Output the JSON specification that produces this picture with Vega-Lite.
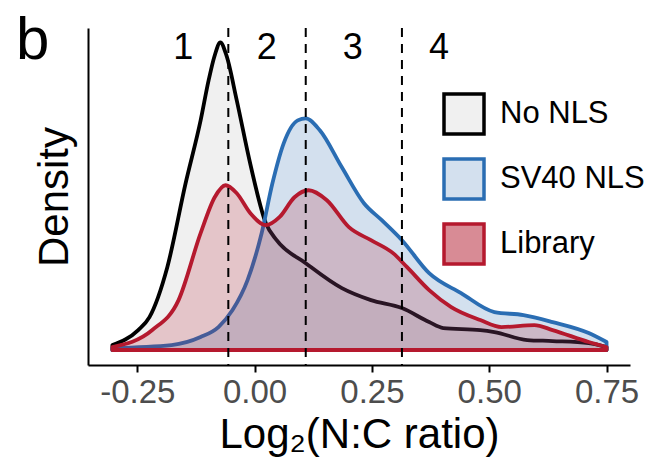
{
  "$schema": "https://vega.github.io/schema/vega-lite/v6.json",
  "autosize": "none",
  "width": 542,
  "height": 337,
  "padding": {"left": 88, "top": 28, "right": 18, "bottom": 105},
  "background": "white",
  "config": {
    "view": {"stroke": null},
    "font": "Liberation Sans",
    "axis": {
      "grid": false,
      "domainColor": "black",
      "domainWidth": 2,
      "tickColor": "black",
      "tickWidth": 2,
      "labelFont": "Liberation Sans",
      "titleFont": "Liberation Sans",
      "titleFontWeight": "normal",
      "titleColor": "black"
    },
    "legend": {
      "labelFont": "Liberation Sans",
      "labelColor": "black"
    }
  },
  "title": {
    "text": "b",
    "anchor": "start",
    "frame": "group",
    "orient": "top",
    "offset": -92,
    "baseline": "alphabetic",
    "dx": -72,
    "fontSize": 60,
    "fontWeight": "normal",
    "font": "Liberation Sans",
    "color": "black"
  },
  "datasets": {
    "density": [
      {"group": "No NLS", "x": -0.303, "density": 0.10},
      {"group": "No NLS", "x": -0.248, "density": 0.40},
      {"group": "No NLS", "x": -0.224, "density": 0.66},
      {"group": "No NLS", "x": -0.186, "density": 1.66},
      {"group": "No NLS", "x": -0.147, "density": 3.34},
      {"group": "No NLS", "x": -0.115, "density": 4.60},
      {"group": "No NLS", "x": -0.098, "density": 5.40},
      {"group": "No NLS", "x": -0.085, "density": 5.90},
      {"group": "No NLS", "x": -0.073, "density": 6.16},
      {"group": "No NLS", "x": -0.060, "density": 5.90},
      {"group": "No NLS", "x": -0.038, "density": 5.00},
      {"group": "No NLS", "x": -0.009, "density": 3.72},
      {"group": "No NLS", "x": 0.024, "density": 2.54},
      {"group": "No NLS", "x": 0.047, "density": 2.20},
      {"group": "No NLS", "x": 0.109, "density": 1.74},
      {"group": "No NLS", "x": 0.186, "density": 1.24},
      {"group": "No NLS", "x": 0.248, "density": 1.00},
      {"group": "No NLS", "x": 0.314, "density": 0.84},
      {"group": "No NLS", "x": 0.372, "density": 0.56},
      {"group": "No NLS", "x": 0.402, "density": 0.44},
      {"group": "No NLS", "x": 0.481, "density": 0.40},
      {"group": "No NLS", "x": 0.511, "density": 0.36},
      {"group": "No NLS", "x": 0.581, "density": 0.20},
      {"group": "No NLS", "x": 0.635, "density": 0.18},
      {"group": "No NLS", "x": 0.712, "density": 0.14},
      {"group": "No NLS", "x": 0.750, "density": 0.06},
      {"group": "SV40 NLS", "x": -0.303, "density": 0.04},
      {"group": "SV40 NLS", "x": -0.177, "density": 0.10},
      {"group": "SV40 NLS", "x": -0.115, "density": 0.26},
      {"group": "SV40 NLS", "x": -0.077, "density": 0.46},
      {"group": "SV40 NLS", "x": -0.047, "density": 0.80},
      {"group": "SV40 NLS", "x": -0.015, "density": 1.40},
      {"group": "SV40 NLS", "x": 0.015, "density": 2.34},
      {"group": "SV40 NLS", "x": 0.038, "density": 3.34},
      {"group": "SV40 NLS", "x": 0.062, "density": 4.14},
      {"group": "SV40 NLS", "x": 0.092, "density": 4.60},
      {"group": "SV40 NLS", "x": 0.109, "density": 4.64},
      {"group": "SV40 NLS", "x": 0.139, "density": 4.40},
      {"group": "SV40 NLS", "x": 0.186, "density": 3.66},
      {"group": "SV40 NLS", "x": 0.233, "density": 2.94},
      {"group": "SV40 NLS", "x": 0.271, "density": 2.60},
      {"group": "SV40 NLS", "x": 0.314, "density": 2.20},
      {"group": "SV40 NLS", "x": 0.372, "density": 1.54},
      {"group": "SV40 NLS", "x": 0.440, "density": 1.14},
      {"group": "SV40 NLS", "x": 0.511, "density": 0.76},
      {"group": "SV40 NLS", "x": 0.573, "density": 0.70},
      {"group": "SV40 NLS", "x": 0.635, "density": 0.56},
      {"group": "SV40 NLS", "x": 0.712, "density": 0.34},
      {"group": "SV40 NLS", "x": 0.750, "density": 0.16},
      {"group": "Library", "x": -0.303, "density": 0.06},
      {"group": "Library", "x": -0.218, "density": 0.40},
      {"group": "Library", "x": -0.162, "density": 1.00},
      {"group": "Library", "x": -0.115, "density": 2.34},
      {"group": "Library", "x": -0.085, "density": 3.06},
      {"group": "Library", "x": -0.062, "density": 3.30},
      {"group": "Library", "x": -0.038, "density": 3.14},
      {"group": "Library", "x": -0.009, "density": 2.74},
      {"group": "Library", "x": 0.024, "density": 2.50},
      {"group": "Library", "x": 0.053, "density": 2.66},
      {"group": "Library", "x": 0.085, "density": 3.06},
      {"group": "Library", "x": 0.115, "density": 3.20},
      {"group": "Library", "x": 0.154, "density": 3.00},
      {"group": "Library", "x": 0.201, "density": 2.46},
      {"group": "Library", "x": 0.248, "density": 2.20},
      {"group": "Library", "x": 0.295, "density": 1.94},
      {"group": "Library", "x": 0.325, "density": 1.66},
      {"group": "Library", "x": 0.372, "density": 1.20},
      {"group": "Library", "x": 0.419, "density": 0.86},
      {"group": "Library", "x": 0.481, "density": 0.60},
      {"group": "Library", "x": 0.526, "density": 0.46},
      {"group": "Library", "x": 0.596, "density": 0.50},
      {"group": "Library", "x": 0.635, "density": 0.40},
      {"group": "Library", "x": 0.712, "density": 0.16},
      {"group": "Library", "x": 0.750, "density": 0.06}
    ],
    "gates": [
      {"gate": -0.056},
      {"gate": 0.109},
      {"gate": 0.314}
    ],
    "regions": [
      {"label": "1", "x": -0.152, "y": 6.05},
      {"label": "2", "x": 0.026, "y": 6.05},
      {"label": "3", "x": 0.209, "y": 6.05},
      {"label": "4", "x": 0.393, "y": 6.05}
    ]
  },
  "layer": [
    {
      "data": {"name": "density"},
      "transform": [{"filter": "datum.group === 'No NLS'"}],
      "mark": {"type": "area", "interpolate": "monotone", "fillOpacity": 0.2, "strokeWidth": 3.8, "strokeJoin": "round"},
      "encoding": {
        "x": {"field": "x", "type": "quantitative", "scale": {"domain": [-0.355, 0.8], "nice": false, "zero": false},
          "axis": {"values": [-0.25, 0, 0.25, 0.5, 0.75], "labelExpr": "replace(format(datum.value, '.2f'), '\u2212', '-')", "labelFontSize": 33, "labelColor": "#4d4d4d", "tickSize": 7, "labelPadding": 4, "title": "Log\u2082(N:C ratio)", "titleFontSize": 42, "titlePadding": 5}},
        "y": {"field": "density", "type": "quantitative", "scale": {"domain": [-0.3, 6.45], "nice": false, "zero": false},
          "axis": {"labels": false, "ticks": false, "title": "Density", "titleFontSize": 42, "titlePadding": 12}},
        "y2": {"datum": 0},
        "fill": {"field": "group", "type": "nominal", "scale": {"domain": ["No NLS", "SV40 NLS", "Library"], "range": ["#b4b4b4", "#2166ac", "#b2182b"]},
          "legend": {"title": null, "orient": "none", "legendX": 354, "legendY": 64, "symbolType": "square", "symbolSize": 1600, "symbolStrokeWidth": 3.5, "labelFontSize": 31, "labelOffset": 14, "rowPadding": 11, "padding": 0,
            "encode": {"symbols": {"update": {"fillOpacity": {"signal": "datum.value === 'Library' ? 0.5 : 0.2"}, "strokeOpacity": {"value": 1}, "opacity": {"value": 1}}}}}},
        "stroke": {"field": "group", "type": "nominal", "scale": {"domain": ["No NLS", "SV40 NLS", "Library"], "range": ["#000000", "#2a6db3", "#b5192e"]},
          "legend": {"title": null, "orient": "none", "legendX": 354, "legendY": 64, "symbolType": "square", "symbolSize": 1600, "symbolStrokeWidth": 3.5, "labelFontSize": 31, "labelOffset": 14, "rowPadding": 11, "padding": 0}}
      }
    },
    {
      "data": {"name": "density"},
      "transform": [{"filter": "datum.group === 'SV40 NLS'"}],
      "mark": {"type": "area", "interpolate": "monotone", "fillOpacity": 0.2, "strokeWidth": 3.8, "strokeJoin": "round"},
      "encoding": {
        "x": {"field": "x", "type": "quantitative"},
        "y": {"field": "density", "type": "quantitative"},
        "y2": {"datum": 0},
        "fill": {"field": "group", "type": "nominal"},
        "stroke": {"field": "group", "type": "nominal"}
      }
    },
    {
      "data": {"name": "density"},
      "transform": [{"filter": "datum.group === 'Library'"}],
      "mark": {"type": "area", "interpolate": "monotone", "fillOpacity": 0.2, "strokeWidth": 3.8, "strokeJoin": "round"},
      "encoding": {
        "x": {"field": "x", "type": "quantitative"},
        "y": {"field": "density", "type": "quantitative"},
        "y2": {"datum": 0},
        "fill": {"field": "group", "type": "nominal"},
        "stroke": {"field": "group", "type": "nominal"}
      }
    },
    {
      "data": {"name": "gates"},
      "mark": {"type": "rule", "color": "black", "strokeWidth": 2, "strokeDash": [9, 7]},
      "encoding": {"x": {"field": "gate", "type": "quantitative"}}
    },
    {
      "data": {"name": "regions"},
      "mark": {"type": "text", "fontSize": 36, "font": "Liberation Sans", "color": "black", "baseline": "middle", "align": "center"},
      "encoding": {
        "x": {"field": "x", "type": "quantitative"},
        "y": {"field": "y", "type": "quantitative"},
        "text": {"field": "label"}
      }
    }
  ]
}
